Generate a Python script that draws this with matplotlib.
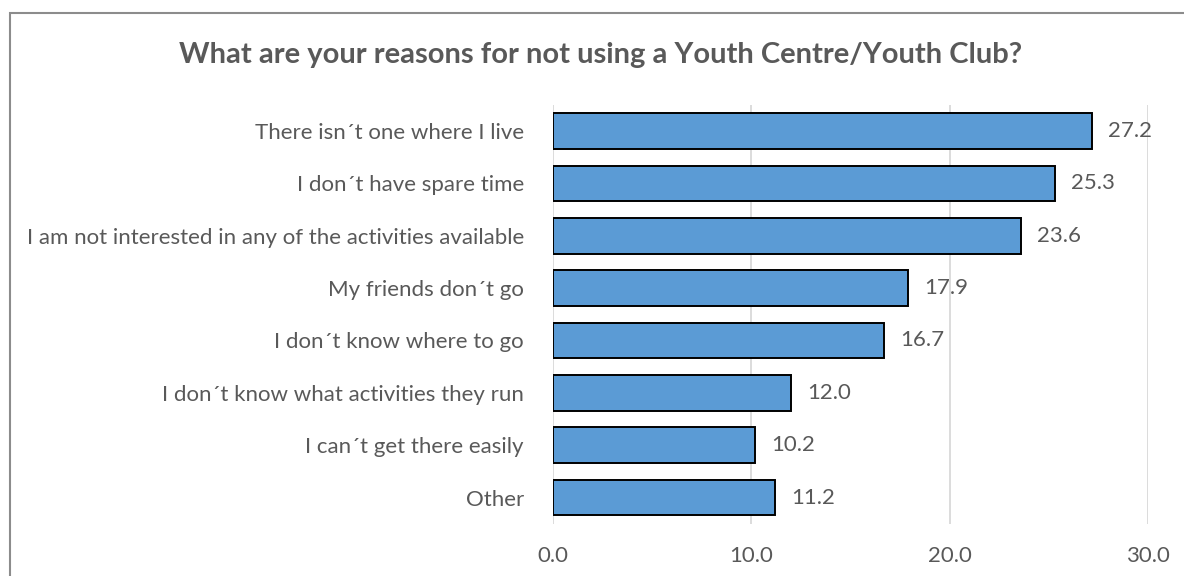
import matplotlib
matplotlib.use("Agg")
import matplotlib.pyplot as plt
from matplotlib.patches import Rectangle

plt.rcParams['font.family'] = ['Lato', 'DejaVu Sans']

categories = [
    "There isn\u00b4t one where I live",
    "I don\u00b4t have spare time",
    "I am not interested in any of the activities available",
    "My friends don\u00b4t go",
    "I don\u00b4t know where to go",
    "I don\u00b4t know what activities they run",
    "I can\u00b4t get there easily",
    "Other",
]
values = [27.2, 25.3, 23.6, 17.9, 16.7, 12.0, 10.2, 11.2]
xticks = [0, 10, 20, 30]
xtick_labels = ["0.0", "10.0", "20.0", "30.0"]
title = "What are your reasons for not using a Youth Centre/Youth Club?"

TEXT = "#595959"
W, H = 1184, 576
fig = plt.figure(figsize=(W / 100, H / 100), dpi=100)
ax = fig.add_axes([553 / W, 1 - 523.7 / H, (1148 - 553) / W, (523.7 - 104.8) / H])

pos = list(range(len(categories)))
ax.barh(pos, values, height=0.68, color="#5B9BD5", edgecolor="black", linewidth=1.4, zorder=3)
ax.set_ylim(len(categories) - 0.5, -0.5)
ax.set_xlim(0, 30)
ax.set_yticks(pos)
ax.set_yticklabels(categories, fontsize=16, color=TEXT)
ax.set_xticks(xticks)
ax.set_xticklabels(xtick_labels, fontsize=16, color=TEXT)
ax.tick_params(axis='y', length=0, pad=21)
ax.tick_params(axis='x', length=0, pad=16)
ax.grid(axis='x', color="#D9D9D9", linewidth=1.3, zorder=0)
for s in ax.spines.values():
    s.set_visible(False)

for p, v in zip(pos, values):
    ax.annotate(f"{v:.1f}", xy=(v, p), xytext=(11.5, 0), textcoords="offset points",
                va="center", ha="left", fontsize=16, color=TEXT)

fig.text(601 / W, 1 - 63 / H, title, ha="center", va="baseline",
         fontsize=21, fontweight="bold", color=TEXT)

fig.patches.append(Rectangle((10 / W, -0.1), 1.2, 1 - 13 / H + 0.1, transform=fig.transFigure,
                             fill=False, edgecolor="#8C8C8C", linewidth=1.5))

fig.savefig("out.png", dpi=100)
